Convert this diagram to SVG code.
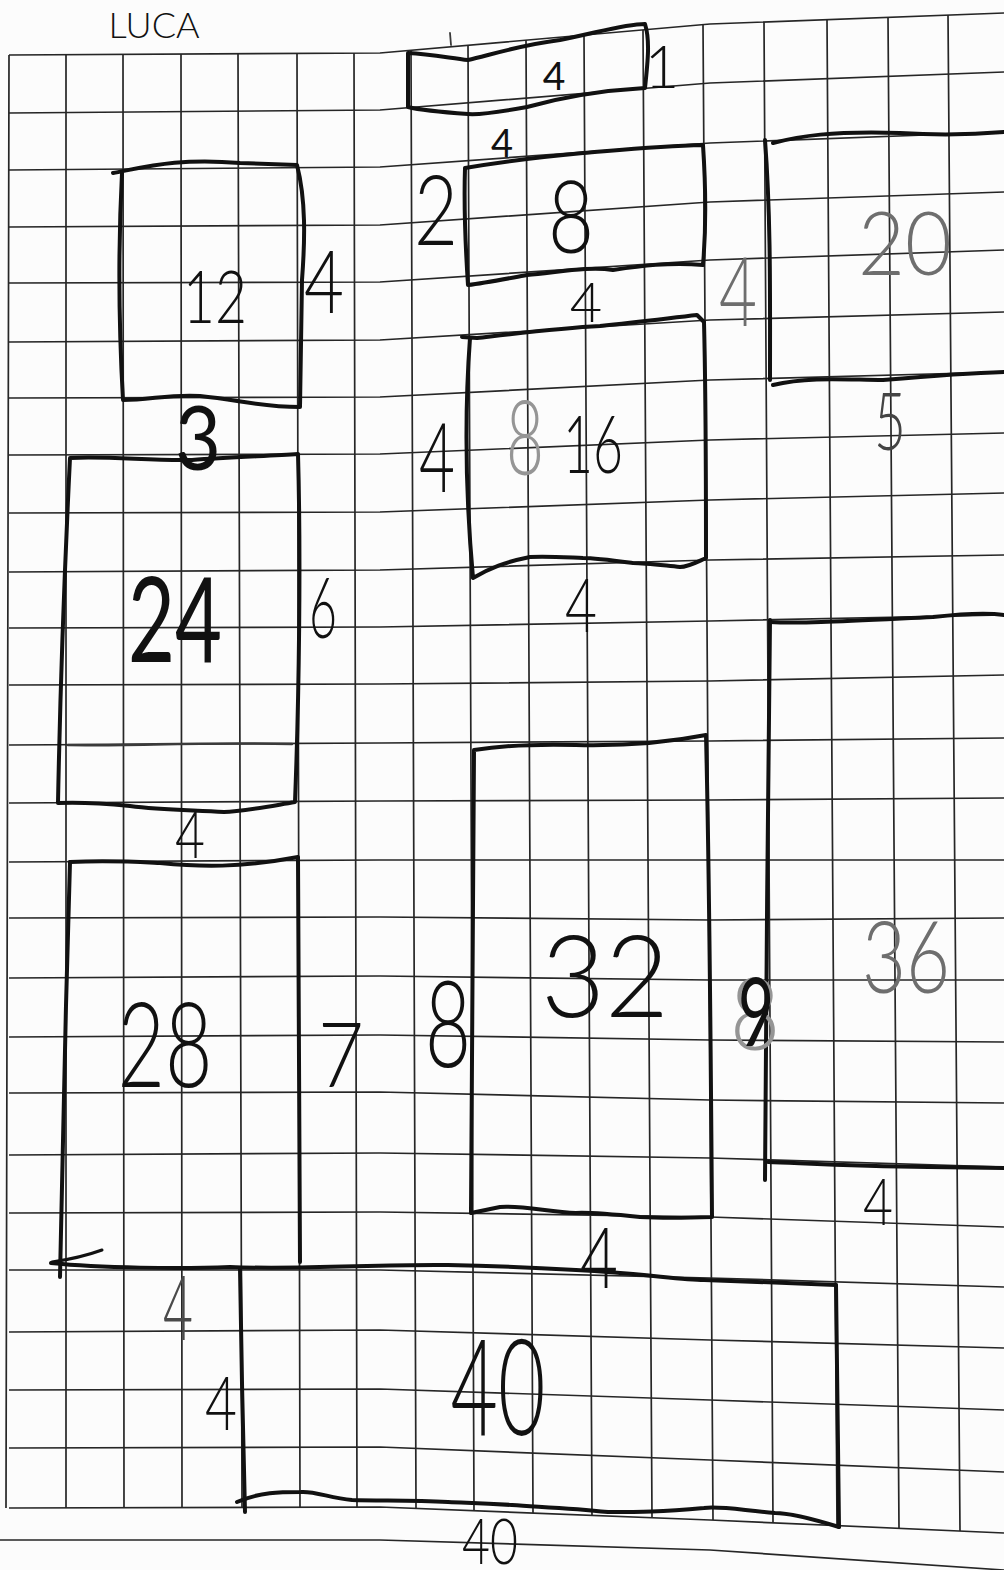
<svg xmlns="http://www.w3.org/2000/svg" width="1004" height="1570" viewBox="0 0 1004 1570">
<style>
.g{fill:none;stroke:#262626;stroke-width:1.7}
.r{fill:none;stroke:#111;stroke-width:4;stroke-linejoin:round;stroke-linecap:round}
.p{fill:none;stroke:#3a3a3a;stroke-width:2.6;stroke-linecap:round}
text{font-family:"Lato","Open Sans","Liberation Sans",sans-serif;font-weight:300;fill:#111;text-anchor:middle}
.b{font-weight:400}
.gr{fill:#6e6e6e}
.lg{fill:#959595}
</style>
<rect x="0" y="0" width="1004" height="1570" fill="#fcfcfc"/>
<g id="grid">
<path class="g" d="M9,55 L380,53 L710,24 L1004,13"/>
<path class="g" d="M9,113 L380,110 L710,83 L1004,72"/>
<path class="g" d="M9,170 L380,167 L710,143 L1004,132"/>
<path class="g" d="M9,227 L380,225 L710,202 L1004,192"/>
<path class="g" d="M9,283 L380,282 L710,260 L1004,250"/>
<path class="g" d="M9,342 L380,340 L710,320 L1004,312"/>
<path class="g" d="M9,398 L380,397 L710,380 L1004,372"/>
<path class="g" d="M9,455 L380,454 L710,440 L1004,433"/>
<path class="g" d="M9,513 L380,512 L710,500 L1004,493"/>
<path class="g" d="M9,572 L380,570 L710,560 L1004,555"/>
<path class="g" d="M9,628 L380,627 L710,621 L1004,615"/>
<path class="g" d="M9,685 L380,684 L710,681 L1004,675"/>
<path class="g" d="M9,745 L380,743 L710,741 L1004,738"/>
<path class="g" d="M9,803 L380,801 L710,800 L1004,798"/>
<path class="g" d="M9,862 L380,860 L710,860 L1004,860"/>
<path class="g" d="M9,918 L380,917 L710,920 L1004,918"/>
<path class="g" d="M9,978 L380,976 L710,980 L1004,980"/>
<path class="g" d="M9,1037 L380,1035 L710,1040 L1004,1042"/>
<path class="g" d="M9,1093 L380,1092 L710,1100 L1004,1103"/>
<path class="g" d="M9,1155 L380,1153 L710,1158 L1004,1167"/>
<path class="g" d="M9,1213 L380,1212 L710,1217 L1004,1227"/>
<path class="g" d="M9,1270 L380,1270 L710,1278 L1004,1287"/>
<path class="g" d="M9,1332 L380,1330 L710,1340 L1004,1348"/>
<path class="g" d="M9,1390 L380,1389 L710,1400 L1004,1410"/>
<path class="g" d="M9,1448 L380,1447 L710,1460 L1004,1472"/>
<path class="g" d="M9,1508 L380,1507 L710,1520 L1004,1533"/>
<path class="g" d="M0,1540 L380,1540 L710,1550 L1004,1570"/>
<path class="g" d="M9,55 L6,1508 M66,54.7 L66,1508 M123,54.4 L124,1508 M181,54 L182,1508 M238,53.8 L242,1507.5 M297,53.4 L300,1507.4 M354,53.1 L357,1507.2 M411,50.3 L416,1508.4 M468,45.3 L474,1510.7 M526,40.2 L533,1513 M584,35.1 L592,1515.3 M643,29.9 L652,1517.7 M703,24.6 L713,1520 M764,22 L773,1523 M827,19.7 L837,1525.6 M888,17.3 L899,1528.4 M948,15.1 L960,1531"/>
</g>
<g id="title"><text x="154" y="38" font-size="36">LUCA</text></g>
<g id="connectors"></g>
<g id="box-4x1">
<path class="r" d="M408,53 C430,54 450,58 468,60 C490,55 520,45 560,40 C600,32 625,24 645,24 C650,40 648,60 645,88 C610,90 570,95 527,107 C500,112 480,115 468,114 C440,112 420,110 408,107 Z"/>
<path class="p" d="M450,33 L451,45" style="stroke-width:1.8"/>
<text x="554" y="90" font-size="39" class="b">4</text>
<text x="662" y="88" font-size="60">1</text>
</g>
<g id="box-8">
<path class="r" d="M465,168 C500,162 540,157 583,153 C620,150 660,146 703,145 C706,190 706,230 703,265 C670,262 640,266 613,270 C590,266 560,272 527,275 C505,279 485,283 468,285 C465,240 464,200 465,168 Z"/>
<text x="571" y="253" font-size="100" textLength="46" lengthAdjust="spacingAndGlyphs">8</text>
<text x="502" y="157" font-size="38" class="b">4</text>
<text x="436" y="245" font-size="96" textLength="44" lengthAdjust="spacingAndGlyphs">2</text>
<text x="586" y="322" font-size="56">4</text>
</g>
<g id="box-12">
<path class="r" d="M113,173 C150,166 180,158 240,163 L297,165 C306,200 305,240 302,280 L300,407 C260,407 240,400 200,396 C170,394 150,400 123,400 C119,330 118,250 122,173"/>
<text x="215" y="323" font-size="72" textLength="64" lengthAdjust="spacingAndGlyphs">12</text>
<text x="324" y="313" font-size="86" textLength="40" lengthAdjust="spacingAndGlyphs">4</text>
<text x="198" y="470" font-size="90" textLength="46" lengthAdjust="spacingAndGlyphs" class="b">3</text>
</g>
<g id="box-16">
<path class="r" d="M462,337 L477,338 C520,333 560,328 600,326 C640,322 670,318 697,315 L704,322 C706,400 706,480 706,558 C695,563 688,567 680,567 C660,565 645,563 633,563 C610,560 595,558 583,558 C560,557 545,556 530,557 C505,562 490,568 473,578 C466,500 464,420 470,338"/>
<text x="525" y="475" font-size="105" class="lg" textLength="38" lengthAdjust="spacingAndGlyphs">8</text>
<text x="593" y="473" font-size="80" textLength="60" lengthAdjust="spacingAndGlyphs">16</text>
<text x="437" y="492" font-size="97" textLength="36" lengthAdjust="spacingAndGlyphs">4</text>
<text x="581" y="632" font-size="75" textLength="32" lengthAdjust="spacingAndGlyphs">4</text>
</g>
<g id="box-20">
<path class="r" d="M765,140 C771,220 770,300 770,380"/>
<path class="r" d="M773,143 C800,136 830,131 900,133 C950,136 980,134 1004,132"/>
<path class="r" d="M773,385 C810,376 850,380 883,380 C930,376 970,373 1004,372"/>
<text x="905" y="275" font-size="88" class="gr" textLength="94" lengthAdjust="spacingAndGlyphs">20</text>
<text x="738" y="326" font-size="96" class="gr" textLength="38" lengthAdjust="spacingAndGlyphs">4</text>
<text x="890" y="450" font-size="80" style="fill:#444" textLength="32" lengthAdjust="spacingAndGlyphs">5</text>
</g>
<g id="box-24">
<path class="r" d="M70,458 C110,456 150,461 192,460 C230,457 270,456 298,454 C301,560 299,700 295,802 C260,808 240,812 224,812 C190,810 160,810 130,806 C100,803 80,802 58,803 C60,700 65,560 70,458 Z"/>
<path class="p" d="M68,745 C130,746 200,742 292,744"/>
<text x="175" y="662" font-size="118" textLength="94" lengthAdjust="spacingAndGlyphs" class="b">24</text>
<text x="323" y="638" font-size="85" textLength="28" lengthAdjust="spacingAndGlyphs">6</text>
<text x="190" y="858" font-size="66" textLength="30" lengthAdjust="spacingAndGlyphs">4</text>
</g>
<g id="box-28">
<path class="r" d="M70,862 C110,860 140,862 160,863 C200,867 240,868 298,857 L300,1262"/>
<path class="r" d="M70,862 C66,1000 62,1150 60,1277"/>
<path class="r" d="M52,1262 Q80,1258 102,1250" style="stroke-width:3"/>
<text x="165" y="1087" font-size="118" textLength="95" lengthAdjust="spacingAndGlyphs">28</text>
<text x="341" y="1087" font-size="90" textLength="46" lengthAdjust="spacingAndGlyphs">7</text>
</g>
<g id="box-32">
<path class="r" d="M474,750 C500,746 540,744 576,745 C620,746 660,744 706,735 C710,900 711,1100 712,1217 C680,1218 660,1218 640,1217 C610,1214 590,1212 576,1213 C550,1212 520,1205 500,1207 L471,1213 C473,1050 474,900 474,750 Z"/>
<text x="605" y="1017" font-size="115" textLength="128" lengthAdjust="spacingAndGlyphs">32</text>
<text x="448" y="1067" font-size="120" textLength="46" lengthAdjust="spacingAndGlyphs">8</text>
</g>
<g id="box-36">
<path class="r" d="M770,620 C768,800 766,1000 765,1180"/>
<path class="r" d="M770,622 C800,624 850,621 933,617 C960,614 985,612 1004,615"/>
<path class="r" d="M768,1162 C800,1163 850,1166 928,1167 L1004,1168"/>
<text x="906" y="993" font-size="100" class="gr" textLength="88" lengthAdjust="spacingAndGlyphs">36</text>
<text x="755" y="1050" font-size="100" class="lg" textLength="50" lengthAdjust="spacingAndGlyphs">8</text>
<text x="756" y="1046" font-size="95" textLength="36" lengthAdjust="spacingAndGlyphs" class="b">9</text>
<text x="878" y="1225" font-size="65" textLength="30" lengthAdjust="spacingAndGlyphs">4</text>
</g>
<g id="box-40">
<path class="r" d="M51,1263 C100,1268 180,1269 230,1267 C300,1270 380,1264 448,1265 C500,1266 540,1268 576,1270 C640,1273 680,1280 704,1280 C740,1281 790,1283 836,1285"/>
<path class="r" d="M836,1285 C838,1400 839,1480 839,1527"/>
<path class="r" d="M839,1527 C810,1518 790,1513 775,1513 C740,1510 720,1506 704,1508 C660,1512 640,1512 608,1512 C570,1508 540,1507 512,1505 C480,1503 470,1503 448,1502 C410,1500 380,1501 352,1500 C330,1498 315,1491 301,1492 C280,1492 260,1492 237,1502"/>
<path class="r" d="M240,1268 C241,1350 243,1430 245,1512"/>
<text x="498" y="1435" font-size="135" textLength="95" lengthAdjust="spacingAndGlyphs">40</text>
<text x="599" y="1288" font-size="85" textLength="38" lengthAdjust="spacingAndGlyphs">4</text>
<text x="178" y="1340" font-size="90" style="fill:#4a4a4a" textLength="30" lengthAdjust="spacingAndGlyphs">4</text>
<text x="221" y="1430" font-size="75" textLength="32" lengthAdjust="spacingAndGlyphs">4</text>
<text x="490" y="1564" font-size="64" textLength="56" lengthAdjust="spacingAndGlyphs">40</text>
</g>
</svg>
